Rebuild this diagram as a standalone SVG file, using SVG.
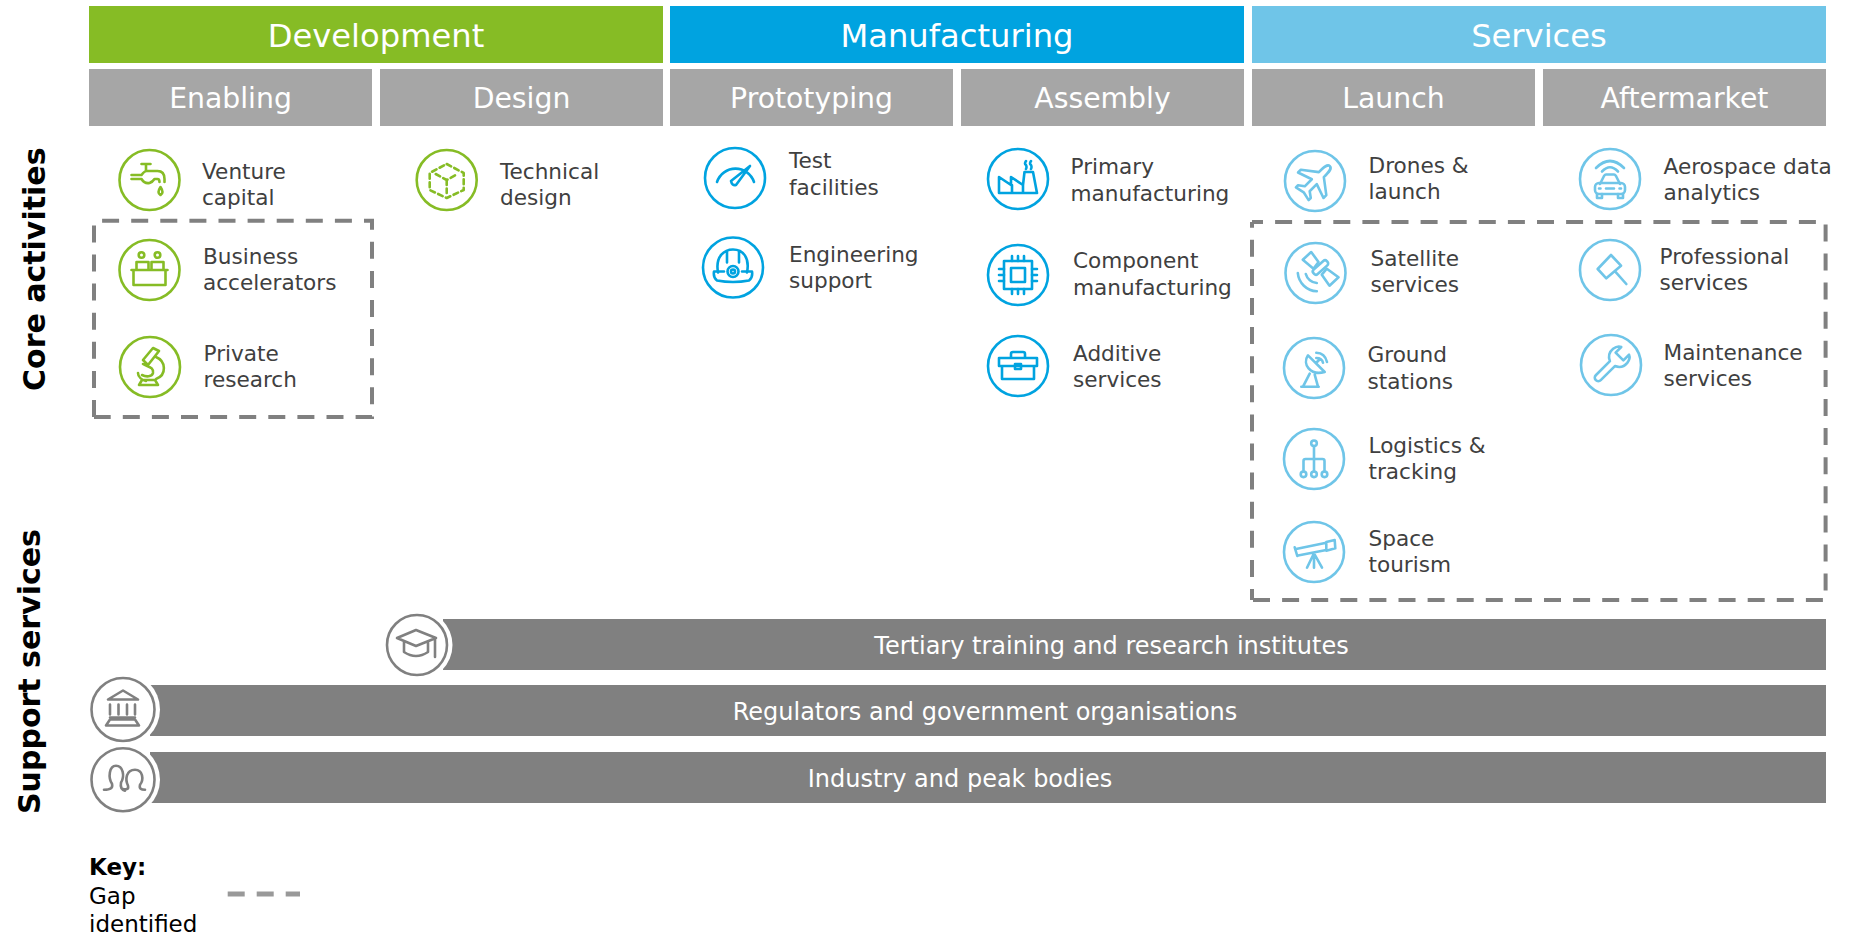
<svg xmlns="http://www.w3.org/2000/svg" width="1850" height="933" viewBox="0 0 1850 933">
<style>
text{font-family:"DejaVu Sans","Liberation Sans",sans-serif}
.h1{font-size:32.2px;fill:#fff;text-anchor:middle}
.h2{font-size:28.3px;fill:#fff;text-anchor:middle}
.lb{font-size:21.6px;fill:#404040}
.bt{font-size:24px;fill:#fff;text-anchor:middle}
.sd{font-size:30px;font-weight:bold;fill:#000}
.k{font-size:23px;fill:#000}
.ic{fill:none;stroke-width:2.6;stroke-linejoin:round;stroke-linecap:round}
.g{stroke:#86BC25}.b{stroke:#00A3E0}.s{stroke:#6FC5E8}
.sv{fill:none;stroke:#808080;stroke-width:2.6;stroke-linejoin:round;stroke-linecap:round}
.halo{fill:#fff;stroke:none}
.gap{fill:none;stroke:#808080;stroke-width:4;stroke-dasharray:17 12.1}
.bar{fill:#808080}.sub{fill:#A6A6A6}
</style>
<g id="headers">
<g id="development"><rect x="89" y="6" width="574" height="57" fill="#86BC25"/><text class="h1" x="376" y="46.500">Development</text></g>
<g id="manufacturing"><rect x="670" y="6" width="574" height="57" fill="#00A3E0"/><text class="h1" x="957" y="46.500">Manufacturing</text></g>
<g id="services"><rect x="1252" y="6" width="574" height="57" fill="#6FC5E8"/><text class="h1" x="1539" y="46.500">Services</text></g>
<g id="enabling"><rect class="sub" x="89" y="69" width="283" height="57"/><text class="h2" x="230.500" y="108">Enabling</text></g>
<g id="design"><rect class="sub" x="380" y="69" width="283" height="57"/><text class="h2" x="521.500" y="108">Design</text></g>
<g id="prototyping"><rect class="sub" x="670" y="69" width="283" height="57"/><text class="h2" x="811.500" y="108">Prototyping</text></g>
<g id="assembly"><rect class="sub" x="961" y="69" width="283" height="57"/><text class="h2" x="1102.500" y="108">Assembly</text></g>
<g id="launch"><rect class="sub" x="1252" y="69" width="283" height="57"/><text class="h2" x="1393.500" y="108">Launch</text></g>
<g id="aftermarket"><rect class="sub" x="1543" y="69" width="283" height="57"/><text class="h2" x="1684.500" y="108">Aftermarket</text></g>
</g>
<g id="side-labels">
<text class="sd" transform="translate(45 391) rotate(-90)">Core activities</text>
<text class="sd" transform="translate(40 814) rotate(-90)">Support services</text>
</g>
<g id="gap-boxes">
<path class="gap" stroke-dashoffset="21" d="M94 220.700H372V417H94"/>
<path class="gap" d="M94 417V220.700"/>
<path class="gap" stroke-dashoffset="6" d="M1252 222H1825.600V600H1252"/>
<path class="gap" stroke-dashoffset="6" d="M1252 600V222"/>
</g>
<g id="venture-capital"><g class="ic g" transform="translate(149.500 180)"><circle r="30"/><path d="M-8-16H1M-3.500-16V-9M-18-5H-8Q-5-9-3-9H8Q15-9 15-1V2M-18-1H-8Q-5 4 0 3Q3 2 5-1H8Q10-1 10 2M11 7Q7 13 11 15Q15 13 11 7Z"/></g><text class="lb" x="202" y="179">Venture</text><text class="lb" x="202" y="205">capital</text></g>
<g id="business-accelerators"><g class="ic g" transform="translate(149.500 270)"><circle r="30"/><circle cx="-8" cy="-15" r="2.800"/><circle cx="8" cy="-15" r="2.800"/><path d="M-18 0H18M-16 0V15H16V0M-13 0V-8H-1V0M2 0V-8H14V0"/></g><text class="lb" x="203" y="263.500">Business</text><text class="lb" x="203" y="289.500">accelerators</text></g>
<g id="private-research"><g class="ic g" transform="translate(150 367)"><circle r="30"/><path d="M-7-7L3-19L9-16L-2-2ZM6-10C16-6 17 8 6 12M-7-3C-2 0 4 0 3 6C2 10-4 10-8 8M-11 18H8L5 13H-8ZM-12 6C-12 10-8 13-4 14"/></g><text class="lb" x="203.500" y="361">Private</text><text class="lb" x="203.500" y="387">research</text></g>
<g id="technical-design"><g class="ic g" transform="translate(446.700 180)"><circle r="30"/><path stroke-dasharray="5 3.500" d="M0-16L17-7V10L0 18L-17 10V-7ZM-11-6L0 0L11-6M0 0V13"/></g><text class="lb" x="500" y="179">Technical</text><text class="lb" x="500" y="205">design</text></g>
<g id="test-facilities"><g class="ic b" transform="translate(735 178)"><circle r="30"/><path d="M-18 4A19.500 19.500 0 0 1 19 4M-4 3L15-12L1 7Q-3 8-4 3Z"/></g><text class="lb" x="789" y="167.700">Test</text><text class="lb" x="789" y="194.500">facilities</text></g>
<g id="engineering-support"><g class="ic b" transform="translate(733 267.500)"><circle r="30"/><path d="M-15 5C-18-12-8-18 0-18C10-18 17-10 14 5M-9 4H-19Q-20 10-16 13Q0 16 16 13Q20 10 19 4H9M-6-16V-5M6-16V-5"/><circle cy="4" r="5.500"/><circle cy="4" r="2"/></g><text class="lb" x="789" y="262">Engineering</text><text class="lb" x="789" y="288">support</text></g>
<g id="primary-manufacturing"><g class="ic b" transform="translate(1018 179)"><circle r="30"/><path d="M-19 14V-2L-7 6V-2L5 6L6.500-7H15L19 14ZM-6 6V14M5 6V14M8-18Q6-15 8-14Q9-12 8-10M13-18Q11-15 13-14Q14-12 13-10"/></g><text class="lb" x="1070.500" y="174">Primary</text><text class="lb" x="1070.500" y="201">manufacturing</text></g>
<g id="component-manufacturing"><g class="ic b" transform="translate(1018 275)"><circle r="30"/><rect x="-14" y="-14" width="28" height="28"/><rect x="-7" y="-7" width="14" height="14"/><path d="M-6-19V-14M0-19V-14M6-19V-14M-6 14V19M0 14V19M6 14V19M-19-6H-14M-19 0H-14M-19 6H-14M14-6H19M14 0H19M14 6H19"/></g><text class="lb" x="1073" y="268">Component</text><text class="lb" x="1073" y="295">manufacturing</text></g>
<g id="additive-services"><g class="ic b" transform="translate(1018 366)"><circle r="30"/><path d="M-19-8H19V0H-19ZM-16 0V13H16V0M-7-8V-12Q-7-14-5-14H5Q7-14 7-12V-8"/><rect x="-3" y="-2" width="6" height="5"/></g><text class="lb" x="1073" y="361">Additive</text><text class="lb" x="1073" y="387">services</text></g>
<g id="drones-launch"><g class="ic s" transform="translate(1315 181)"><circle r="30"/><path transform="rotate(45)" d="M0-21C3.500-21 3.500-16 3.500-9L18 2V6L3.500 1V11L9 15V18L0 16L-9 18V15L-3.500 11V1L-18 6V2L-3.500-9C-3.500-16-3.500-21 0-21Z"/></g><text class="lb" x="1368.500" y="173">Drones &amp;</text><text class="lb" x="1368.500" y="199">launch</text></g>
<g id="aerospace-data-analytics"><g class="ic s" transform="translate(1610 179)"><circle r="30"/><path d="M-14-11Q0-25 14-11M-8-7.500Q0-16 8-7.500M-10 5L-6-3Q-5-4.500-4-4.500H4Q5-4.500 6-3L10 5M-13 15V19H-8V15M8 15V19H13V15M-4 9.500H4M-11 9.500H-9.500M9.500 9.500H11"/><rect x="-15" y="4" width="30" height="11" rx="4"/></g><text class="lb" x="1663.500" y="174">Aerospace data</text><text class="lb" x="1663.500" y="200">analytics</text></g>
<g id="satellite-services"><g class="ic s" transform="translate(1315.500 273)"><circle r="30"/><path d="M-4.300-21L-12.700-13.300L-2-4.300L3-11ZM23 4.300L14 12.700L6.300 1.700L11.300-4.300Z"/><rect x="-4" y="-8.500" width="18" height="6" rx="2.500" transform="rotate(-42 5 -5.500)"/><path d="M-9.700 1A12 12 0 0 0 1.300 10M-17.700 0A20 20 0 0 0 1.300 18.300"/></g><text class="lb" x="1370.500" y="266">Satellite</text><text class="lb" x="1370.500" y="292">services</text></g>
<g id="professional-services"><g class="ic s" transform="translate(1610 270)"><circle r="30"/><path d="M-12.300-1L1-15L11-4.300L-3.700 8.300ZM5.300 1.700L16.300 14"/></g><text class="lb" x="1659.500" y="264">Professional</text><text class="lb" x="1659.500" y="290">services</text></g>
<g id="ground-stations"><g class="ic s" transform="translate(1314 368)"><circle r="30"/><path d="M-6-12.700C-12-4-4 8 10.700 4ZM2-5L6-9M-4.300 5.700L-11 18.700M0.700 6.700L4 18.700M-12.700 18.700H4.700M2.300-15.300Q11-15 13-6M2.300-10Q8-10 9-5.300"/></g><text class="lb" x="1367.500" y="362">Ground</text><text class="lb" x="1367.500" y="389">stations</text></g>
<g id="maintenance-services"><g class="ic s" transform="translate(1611 365)"><circle r="30"/><path transform="rotate(45)" d="M-3.500-2C-8-4-10.500-8-10-13C-9.500-17-8-19-5.500-20V-12H5.500V-20C8-19 9.500-17 10-13C10.500-8 8-4 3.500-2V18A3.500 3.500 0 0 1-3.500 18Z"/></g><text class="lb" x="1663.500" y="360">Maintenance</text><text class="lb" x="1663.500" y="386">services</text></g>
<g id="logistics-tracking"><g class="ic s" transform="translate(1314 459)"><circle r="30"/><circle cy="-15.700" r="2.800"/><circle cx="-10.500" cy="15.300" r="2.800"/><circle cy="15.300" r="2.800"/><circle cx="10.500" cy="15.300" r="2.800"/><path d="M0-13V12.500M-10.500 12.500V2Q-10.500 0-8.500 0H8.500Q10.500 0 10.500 2V12.500"/></g><text class="lb" x="1368.500" y="453">Logistics &amp;</text><text class="lb" x="1368.500" y="479">tracking</text></g>
<g id="space-tourism"><g class="ic s" transform="translate(1314 552)"><circle r="30"/><path d="M-19.300-4.700L-16.700 4M-18-3L12.300-9.300L12.300-2L-16 3.500M12.300-10L20.700-12L21.300-3.700L12.300-1.300M0 1.300L-7 15.700M0 1.300V15.700M0 1.300L8 15.700"/></g><text class="lb" x="1368.500" y="546">Space</text><text class="lb" x="1368.500" y="572">tourism</text></g>
<g id="tertiary"><rect class="bar" x="443" y="619" width="1383" height="51"/><circle class="halo" cx="417" cy="645" r="35.500"/><g class="sv" transform="translate(417 645)"><circle r="30"/><path d="M-20-7L-1-15L19-7L-1 1ZM-13-3V7Q-1 15 11 7V-3M18-6V12"/></g><text class="bt" x="1111.500" y="654">Tertiary training and research institutes</text></g>
<g id="regulators"><rect class="bar" x="150" y="685" width="1676" height="51"/><circle class="halo" cx="123" cy="709.500" r="37"/><g class="sv" transform="translate(123 709.500)"><circle r="31.500"/><path d="M-15-10L0-19L15-10ZM-13-5V5M-4.500-5V5M4-5V5M12-5V5M-13 8H12M-17 16L-13 10H12L16 16Z"/></g><text class="bt" x="985" y="720">Regulators and government organisations</text></g>
<g id="industry"><rect class="bar" x="150" y="752" width="1676" height="51"/><circle class="halo" cx="123" cy="779.700" r="37"/><g class="sv" transform="translate(123 779.700)"><circle r="31.500"/><path d="M-19 10C-12 10-10 8-11 4C-15-2-14-14-7-14C0-14 2-4-2 3C-3 8-1 10 2 11M-1 9C3 10 6 10 5 6C2 0 3-10 12-10C20-10 21 0 17 5C16 9 18 10 22 10"/></g><text class="bt" x="960" y="787">Industry and peak bodies</text></g>
<g id="key">
<text class="k" x="89" y="875" font-weight="bold">Key:</text>
<text class="k" x="89" y="903.500">Gap</text>
<text class="k" x="89" y="931.500">identified</text>
<path d="M227.700 894H300" fill="none" stroke="#999" stroke-width="5" stroke-dasharray="17 12"/>
</g>
</svg>
